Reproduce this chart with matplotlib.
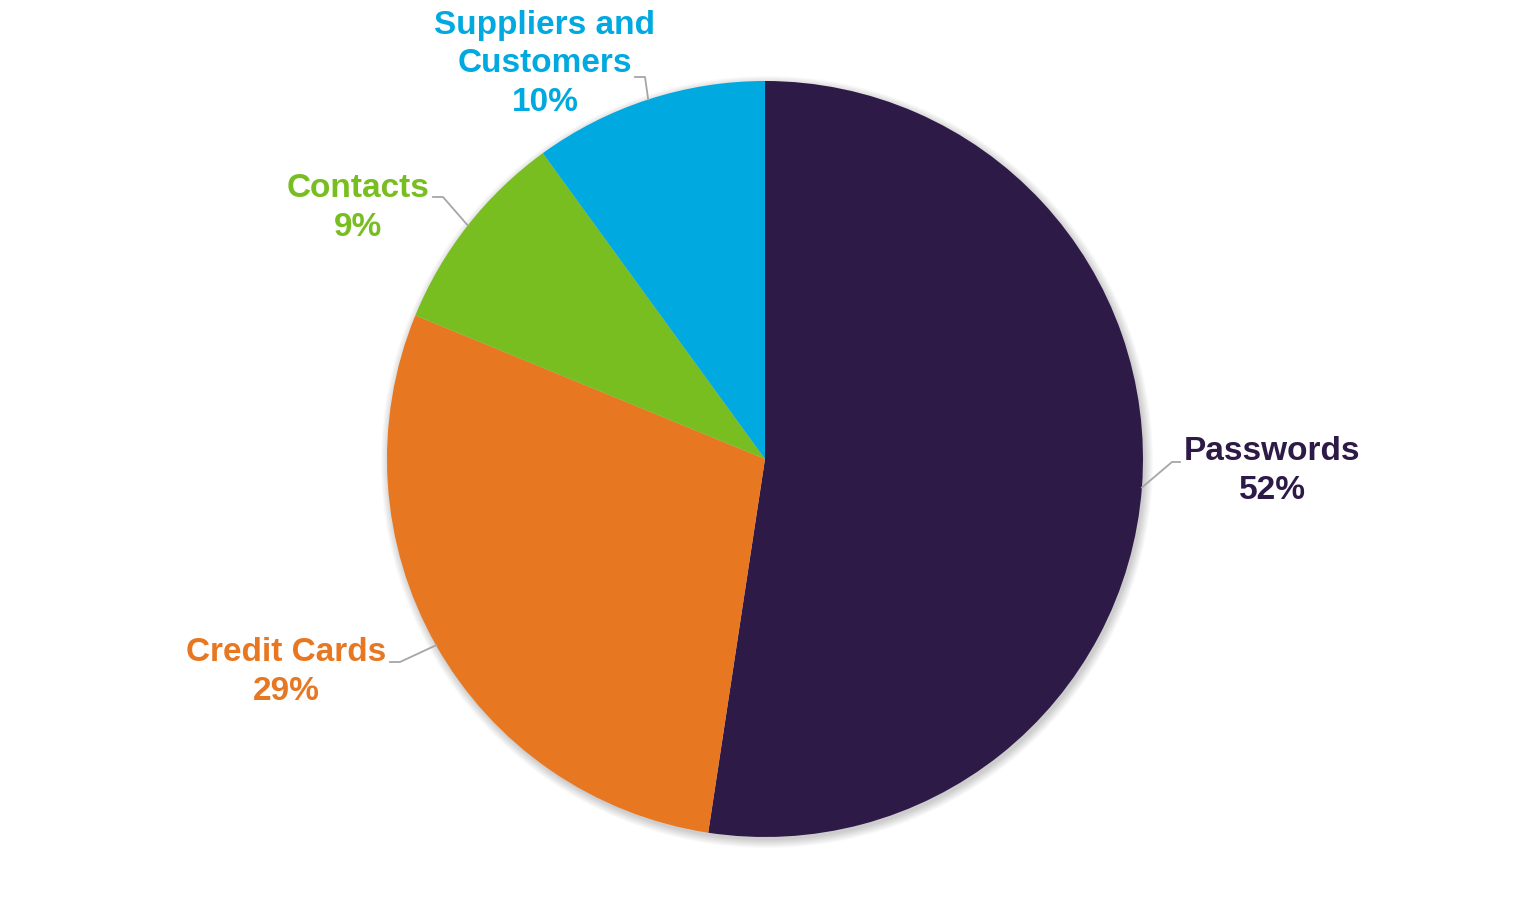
import numpy as np
import matplotlib
matplotlib.use("Agg")
import matplotlib.pyplot as plt
from matplotlib.patches import Circle

categories = ["Passwords", "Credit Cards", "Contacts", "Suppliers and\nCustomers"]
values = [52.4, 28.8, 8.8, 10.0]
colors = ["#2E1A47", "#E87722", "#78BE20", "#00A9E0"]

W, H = 1530, 919
fig = plt.figure(figsize=(W / 100, H / 100), dpi=100)
ax = fig.add_axes([0, 0, 1, 1])

cx, cy, R = 765, H - 459, 378

# soft shadow
for i in range(10):
    ax.add_patch(Circle((cx + 2, cy - 3), R + i * 0.9, color="black",
                        alpha=0.018, lw=0, zorder=0))

wedges, _ = ax.pie(values, startangle=90, counterclock=False, colors=colors,
                   center=(cx, cy), radius=R, frame=True,
                   wedgeprops=dict(linewidth=0))
ax.set_xlim(0, W)
ax.set_ylim(0, H)
ax.set_aspect("equal")
ax.axis("off")
for w in wedges:
    w.set_zorder(2)

# label layout: (elbow x, elbow y, end x, text x, text y) in pixel coords (y down)
layout = [
    (1172, 462, 1180, 1272, 471),
    (400, 662, 390, 286, 672),
    (443, 197, 433, 358, 208),
    (645, 77, 635, 545, 64),
]

for w, cat, val, col, (ex, ey, hx, tx, ty) in zip(wedges, categories, values, colors, layout):
    th = np.deg2rad((w.theta1 + w.theta2) / 2)
    sx, sy = cx + R * np.cos(th), cy + R * np.sin(th)
    ax.plot([sx, ex, hx], [sy, H - ey, H - ey], color="#A6A6A6", lw=1.3, zorder=3)
    ax.text(tx, H - ty, f"{cat}\n{int(round(val))}%", color=col, fontsize=24,
            fontweight="bold", family=["Liberation Sans", "DejaVu Sans"],
            ha="center", va="center", linespacing=1.3, zorder=4)

fig.savefig("out.png", dpi=100)
